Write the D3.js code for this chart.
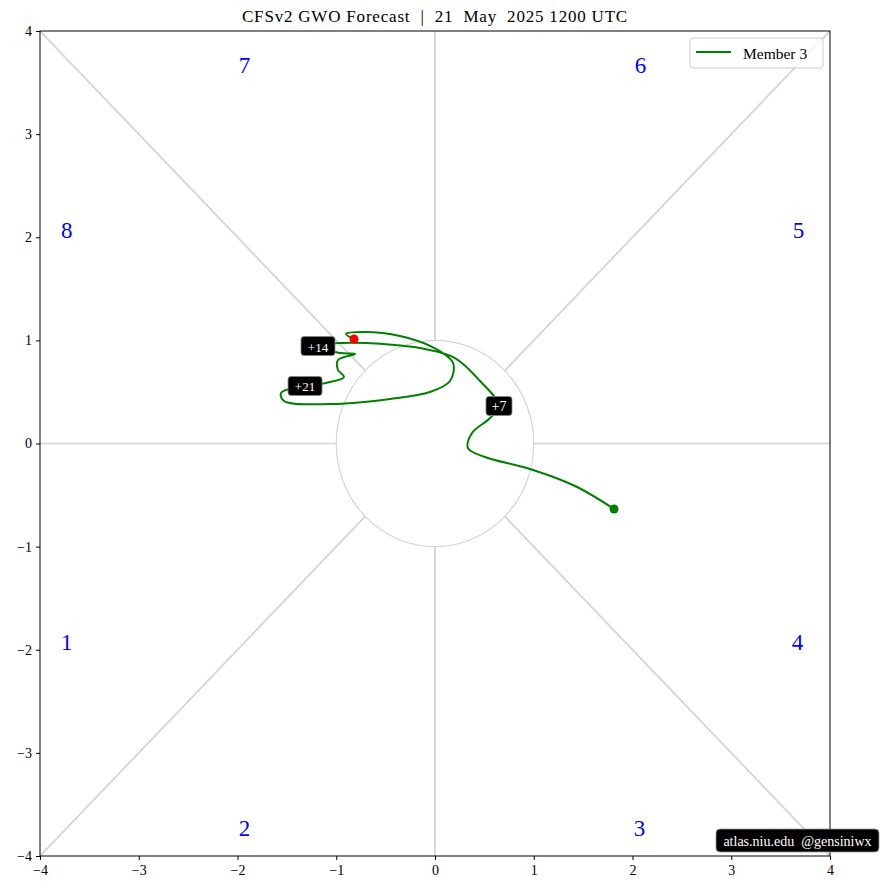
<!DOCTYPE html>
<html><head><meta charset="utf-8">
<script src="https://cdn.jsdelivr.net/npm/d3@7"></script>
<style>
body{margin:0;background:#fff;}
text{font-family:"Liberation Serif","DejaVu Serif",serif;}
</style></head>
<body><svg id="chart" width="881" height="890"></svg>
<script>
// ---- data ----
const days = [0,1,2,3,4,5,6,7,8,9,10,11,12,13,14,15,16,17,18,19,20,21,22,23,24,25,26,27,28,29,30,31,32,33];
const gwoX = [1.813,1.418,0.962,0.506,0.334,0.375,0.557,0.648,0.456,0.203,-0.101,-0.405,-0.699,-0.942,-1.185,
  -0.962,-0.810,-0.982,-0.982,-0.922,-1.104,-1.316,-1.559,-1.529,-1.063,-0.456,-0.051,0.152,0.182,-0.030,-0.354,-0.709,-0.901,-0.820];
const gwoY = [-0.635,-0.412,-0.247,-0.131,-0.044,0.102,0.247,0.364,0.606,0.829,0.916,0.955,0.975,0.975,0.945,
  0.877,0.868,0.810,0.713,0.645,0.587,0.558,0.490,0.412,0.383,0.432,0.499,0.606,0.781,0.936,1.042,1.081,1.062,1.013];
const labelDays = [7,14,21];
const phaseNames = ["1","2","3","4","5","6","7","8"];
const phaseX = [-3.73,-1.93,2.07,3.67,3.68,2.08,-1.93,-3.73];
const phaseY = [-1.93,-3.73,-3.73,-1.93,2.07,3.67,3.67,2.07];
const ticks = [-4,-3,-2,-1,0,1,2,3,4];
const seriesName = "Member 3";
const titleText = "CFSv2 GWO Forecast  |  21  May  2025 1200 UTC";
const creditText = "atlas.niu.edu  @gensiniwx";

// ---- layout ----
const svg = d3.select("#chart");
const L=40, R=830, T=31, B=856;
const x = d3.scaleLinear().domain([-4,4]).range([L,R]);
const y = d3.scaleLinear().domain([-4,4]).range([B,T]);
const grey = "#d3d3d3";

const g = svg.append("g");
svg.append("clipPath").attr("id","clip").append("rect").attr("x",L).attr("y",T).attr("width",R-L).attr("height",B-T);
const plot = g.append("g").attr("clip-path","url(#clip)");

// dividing lines
const r2 = Math.SQRT1_2;
const segs = [
  [[-4,0],[-1,0]],[[1,0],[4,0]],[[0,1],[0,4]],[[0,-1],[0,-4]],
  [[r2,r2],[4,4]],[[-r2,r2],[-4,4]],[[r2,-r2],[4,-4]],[[-r2,-r2],[-4,-4]]
];
plot.selectAll("line.div").data(segs).join("line").attr("class","div")
  .attr("x1",d=>x(d[0][0])).attr("y1",d=>y(d[0][1]))
  .attr("x2",d=>x(d[1][0])).attr("y2",d=>y(d[1][1]))
  .attr("stroke",grey).attr("stroke-width",1.7);
plot.append("ellipse").attr("cx",x(0)).attr("cy",y(0))
  .attr("rx",x(1)-x(0)).attr("ry",y(0)-y(1))
  .attr("fill","none").attr("stroke",grey).attr("stroke-width",1.1);

// phase labels
plot.selectAll("text.ph").data(phaseNames).join("text").attr("class","ph")
  .attr("x",(d,i)=>x(phaseX[i])).attr("y",(d,i)=>y(phaseY[i]))
  .attr("text-anchor","middle").attr("dominant-baseline","central")
  .attr("fill","#0000ff").attr("font-size",23).text(d=>d);

// trajectory
const pts = days.map((d,i)=>[gwoX[i],gwoY[i]]);
const line = d3.line().x(d=>x(d[0])).y(d=>y(d[1])).curve(d3.curveCatmullRom.alpha(0.5));
plot.append("path").attr("d",line(pts)).attr("fill","none").attr("stroke","#008000").attr("stroke-width",2);
plot.append("circle").attr("cx",x(gwoX[0])).attr("cy",y(gwoY[0])).attr("r",4.5).attr("fill","#008000");
plot.append("circle").attr("cx",x(gwoX[gwoX.length-1])).attr("cy",y(gwoY[gwoY.length-1])).attr("r",4.5).attr("fill","#ff0000");

// day labels
labelDays.forEach(dd=>{
  const i = days.indexOf(dd);
  const cx = x(gwoX[i]), cy = y(gwoY[i]);
  const w = dd<10?26:34, h=19;
  plot.append("rect").attr("x",cx-w/2).attr("y",cy-h/2).attr("width",w).attr("height",h)
    .attr("rx",3).attr("fill","#000").attr("stroke","#888").attr("stroke-width",0.8);
  plot.append("text").attr("x",cx).attr("y",cy+1).attr("text-anchor","middle").attr("dominant-baseline","central")
    .attr("fill","#fff").attr("font-size",dd<10?14:13).text("+"+dd);
});

// axes frame
g.append("rect").attr("x",L).attr("y",T).attr("width",R-L).attr("height",B-T)
  .attr("fill","none").attr("stroke","#000").attr("stroke-width",1);
const fmt = d=> d<0 ? "\u2212"+Math.abs(d) : ""+d;
const xa = g.append("g").attr("transform",`translate(0,${B})`)
  .call(d3.axisBottom(x).tickValues(ticks).tickFormat(fmt).tickSize(4).tickPadding(5));
const ya = g.append("g").attr("transform",`translate(${L},0)`)
  .call(d3.axisLeft(y).tickValues(ticks).tickFormat(fmt).tickSize(4).tickPadding(4));
[xa,ya].forEach(a=>{
  a.attr("font-size",14).attr("font-family","Liberation Serif");
  a.select(".domain").remove();
  a.selectAll("text").attr("font-size",14).attr("fill","#000");
  a.selectAll("line").attr("stroke","#000");
});

// title
g.append("text").attr("x",(L+R)/2).attr("y",22).attr("text-anchor","middle")
  .attr("font-size",17).attr("letter-spacing",0.8).style("white-space","pre").text(titleText);

// legend
const lg = g.append("g");
lg.append("rect").attr("x",690).attr("y",38).attr("width",133).attr("height",30).attr("rx",3)
  .attr("fill","#fff").attr("fill-opacity",0.8).attr("stroke","#cccccc").attr("stroke-width",1);
lg.append("line").attr("x1",696).attr("x2",731).attr("y1",52).attr("y2",52).attr("stroke","#008000").attr("stroke-width",2);
lg.append("text").attr("x",743).attr("y",53).attr("dominant-baseline","central").attr("font-size",15.5).text(seriesName);

// credit
const cg = g.append("g");
cg.append("rect").attr("x",716).attr("y",829).attr("width",163).attr("height",23).attr("rx",4)
  .attr("fill","#000").attr("stroke","#999").attr("stroke-width",0.8);
cg.append("text").attr("x",797.5).attr("y",841).attr("text-anchor","middle").attr("dominant-baseline","central")
  .attr("fill","#fff").attr("font-size",14).style("white-space","pre").text(creditText);
</script></body></html>
